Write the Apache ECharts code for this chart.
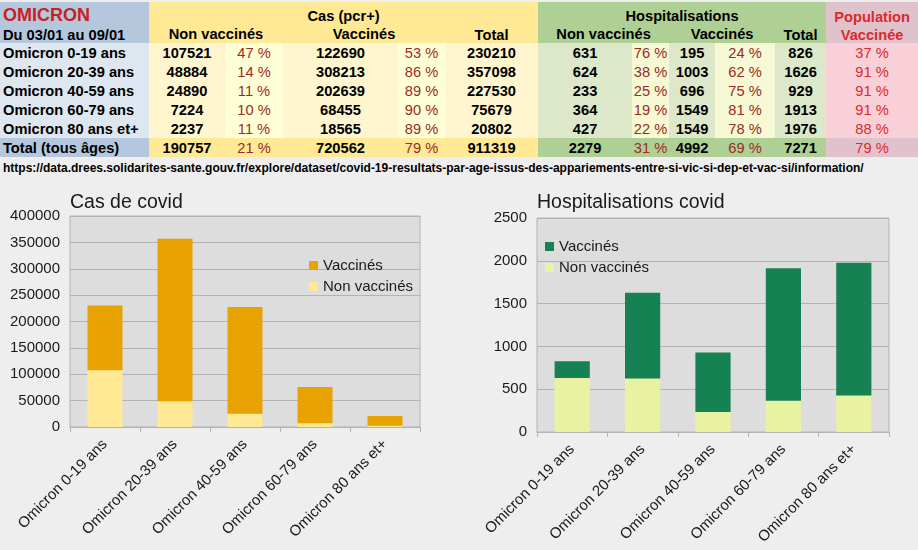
<!DOCTYPE html>
<html>
<head>
<meta charset="utf-8">
<script src="https://cdn.jsdelivr.net/npm/echarts@6/dist/echarts.min.js"></script>
<style>
  html, body { margin:0; padding:0; width:918px; height:550px; overflow:hidden; background:#eeeeee; font-family:"Liberation Sans", Arial, sans-serif; }
  #tbl { position:absolute; left:0; top:2px; border-collapse:collapse; table-layout:fixed; width:918px; }
  #tbl td { padding:0; height:19px; line-height:19px; white-space:nowrap; overflow:hidden; text-align:center; font-size:14.67px; font-weight:bold; color:#000; }
  #tbl td span { display:inline-block; position:relative; top:1px; }
  #tbl tr.h1 td { height:23px; line-height:18px; vertical-align:bottom; }
  #tbl tr.h2 td { height:18px; line-height:18px; }
  #tbl td.lab { text-align:left; padding-left:3px; }
  #tbl td.pct { font-weight:normal; color:#9c2b22; }
  #tbl td.pop { font-weight:normal; color:#dc2a2c; }
  #url { position:absolute; left:3px; top:160px; font-size:12px; font-weight:bold; color:#000; line-height:16px; white-space:nowrap; }
  #chart { position:absolute; left:0; top:175px; width:918px; height:375px; }
</style>
</head>
<body>
<table id="tbl"><colgroup>
<col style="width:149px"><col style="width:76px"><col style="width:58px"><col style="width:115px"><col style="width:47px"><col style="width:93px"><col style="width:94px"><col style="width:37px"><col style="width:46px"><col style="width:60px"><col style="width:51px"><col style="width:92px">
</colgroup><tbody id="tb"></tbody></table>
<div id="url">https://data.drees.solidarites-sante.gouv.fr/explore/dataset/covid-19-resultats-par-age-issus-des-appariements-entre-si-vic-si-dep-et-vac-si/information/</div>
<div id="chart"></div>
<script>
// ---- data ----
const categories = ['Omicron 0-19 ans', 'Omicron 20-39 ans', 'Omicron 40-59 ans', 'Omicron 60-79 ans', 'Omicron 80 ans et+'];
const casNonVacc = [107521, 48884, 24890, 7224, 2237];
const casNonVaccPct = ['47 %', '14 %', '11 %', '10 %', '11 %'];
const casVacc = [122690, 308213, 202639, 68455, 18565];
const casVaccPct = ['53 %', '86 %', '89 %', '90 %', '89 %'];
const casTotal = [230210, 357098, 227530, 75679, 20802];
const hospNonVacc = [631, 624, 233, 364, 427];
const hospNonVaccPct = ['76 %', '38 %', '25 %', '19 %', '22 %'];
const hospVacc = [195, 1003, 696, 1549, 1549];
const hospVaccPct = ['24 %', '62 %', '75 %', '81 %', '78 %'];
const hospTotal = [826, 1626, 929, 1913, 1976];
const popVaccPct = ['37 %', '91 %', '91 %', '91 %', '88 %'];
const totalRow = ['Total (tous âges)', 190757, '21 %', 720562, '79 %', 911319, 2279, '31 %', 4992, '69 %', 7271, '79 %'];
const chartSeriesNames = ['Vaccinés', 'Non vaccinés'];

// ---- table ----
const C = {
  blueH:'#b4c7dc', blueD:'#dee6ef',
  goldH:'#ffe994', goldN:'#fff5ce', goldP:'#ffffd7',
  greenH:'#afd095', greenN:'#dde8cb', greenP:'#f6f9d4',
  popH:'#e0c2cd', popD:'#f9d0d7'
};
const tb = document.getElementById('tb');
function td(text, bg, cls, extra) {
  return '<td' + (cls ? ' class="' + cls + '"' : '') + ' style="background:' + bg + ';' + (extra || '') + '"' + '><span>' + text + '</span></td>';
}
let html = '';
html += '<tr class="h1">' + td('OMICRON', C.blueH, 'lab', 'color:#c9211e;font-size:18px;line-height:22px;vertical-align:middle;') +
  '<td colspan="5" style="background:' + C.goldH + '">Cas (pcr+)</td>' +
  '<td colspan="5" style="background:' + C.greenH + '">Hospitalisations</td>' +
  td('Population', C.popH, '', 'color:#dc2a2c;') + '</tr>';
html += '<tr class="h2">' + td('Du 03/01 au 09/01', C.blueH, 'lab') +
  '<td colspan="2" style="background:' + C.goldH + '">Non vaccinés</td>' +
  '<td colspan="2" style="background:' + C.goldH + '">Vaccinés</td>' +
  td('Total', C.goldH) +
  '<td colspan="2" style="background:' + C.greenH + '">Non vaccinés</td>' +
  '<td colspan="2" style="background:' + C.greenH + '">Vaccinés</td>' +
  td('Total', C.greenH) +
  td('Vaccinée', C.popH, '', 'color:#dc2a2c;') + '</tr>';
for (let i = 0; i < categories.length; i++) {
  html += '<tr>' + td(categories[i], C.blueD, 'lab') +
    td(casNonVacc[i], C.goldN) + td(casNonVaccPct[i], C.goldP, 'pct') +
    td(casVacc[i], C.goldN) + td(casVaccPct[i], C.goldP, 'pct') +
    td(casTotal[i], C.goldN) +
    td(hospNonVacc[i], C.greenN) + td(hospNonVaccPct[i], C.greenP, 'pct') +
    td(hospVacc[i], C.greenN) + td(hospVaccPct[i], C.greenP, 'pct') +
    td(hospTotal[i], C.greenN) +
    td(popVaccPct[i], C.popD, 'pop') + '</tr>';
}
const tbg = [C.blueH, C.goldH, C.goldH, C.goldH, C.goldH, C.goldH, C.greenH, C.greenH, C.greenH, C.greenH, C.greenH, C.popH];
const tcls = ['lab', '', 'pct', '', 'pct', '', '', 'pct', '', 'pct', '', 'pop'];
html += '<tr>' + totalRow.map((v, j) => td(v, tbg[j], tcls[j])).join('') + '</tr>';
tb.innerHTML = html;

// ---- charts ----
const FONT = '"Liberation Sans", Arial, sans-serif';
const TXT = '#1a1a1a';
const casColors = { 'Vaccinés': '#e8a202', 'Non vaccinés': '#ffe994' };
const hospColors = { 'Vaccinés': '#168253', 'Non vaccinés': '#e8f2a0' };
function xAxis(gi) {
  return {
    type: 'category', gridIndex: gi, data: categories,
    axisLine: { lineStyle: { color: '#b3b3b3' } },
    axisTick: { show: true, length: 5, lineStyle: { color: '#b3b3b3' } },
    axisLabel: { rotate: 45, fontSize: 15, color: TXT, fontFamily: FONT, margin: 15, interval: 0 }
  };
}
function yAxis(gi, max, interval) {
  return {
    type: 'value', gridIndex: gi, min: 0, max: max, interval: interval,
    axisLine: { show: false }, axisTick: { show: false },
    splitLine: { lineStyle: { color: '#b3b3b3' } },
    axisLabel: { fontSize: 15, color: TXT, fontFamily: FONT, margin: 10, formatter: v => String(v) }
  };
}
function legend(left, top, colors) {
  return {
    orient: 'vertical', left: left, top: top, padding: 0, itemGap: 6,
    itemWidth: 9, itemHeight: 9, icon: 'rect', selectedMode: false,
    textStyle: { fontSize: 15, color: TXT, fontFamily: FONT },
    data: chartSeriesNames.map(n => ({ name: n, itemStyle: { color: colors[n] } }))
  };
}
function bar(name, data, gi, color) {
  return {
    type: 'bar', name: name, data: data, stack: 's' + gi, xAxisIndex: gi, yAxisIndex: gi,
    barWidth: '50%', itemStyle: { color: color }
  };
}
const chart = echarts.init(document.getElementById('chart'), null, { renderer: 'canvas' });
chart.setOption({
  animation: false,
  backgroundColor: 'transparent',
  title: [
    { text: 'Cas de covid', left: 70, top: 18, padding: 0, textStyle: { fontSize: 19.5, fontWeight: 'normal', color: TXT, fontFamily: FONT } },
    { text: 'Hospitalisations covid', left: 537, top: 18, padding: 0, textStyle: { fontSize: 19.5, fontWeight: 'normal', color: TXT, fontFamily: FONT } }
  ],
  legend: [legend(309, 83, casColors), legend(545, 64, hospColors)],
  grid: [
    { left: 70, width: 350, top: 41, height: 211, show: true, backgroundColor: '#dddddd', borderColor: '#b3b3b3', borderWidth: 1, outerBoundsMode: 'none', containLabel: false },
    { left: 537, width: 352, top: 43, height: 214, show: true, backgroundColor: '#dddddd', borderColor: '#b3b3b3', borderWidth: 1, outerBoundsMode: 'none', containLabel: false }
  ],
  xAxis: [xAxis(0), xAxis(1)],
  yAxis: [yAxis(0, 400000, 50000), yAxis(1, 2500, 500)],
  series: [
    bar('Non vaccinés', casNonVacc, 0, casColors['Non vaccinés']),
    bar('Vaccinés', casVacc, 0, casColors['Vaccinés']),
    bar('Non vaccinés', hospNonVacc, 1, hospColors['Non vaccinés']),
    bar('Vaccinés', hospVacc, 1, hospColors['Vaccinés'])
  ]
});
</script>
</body>
</html>
